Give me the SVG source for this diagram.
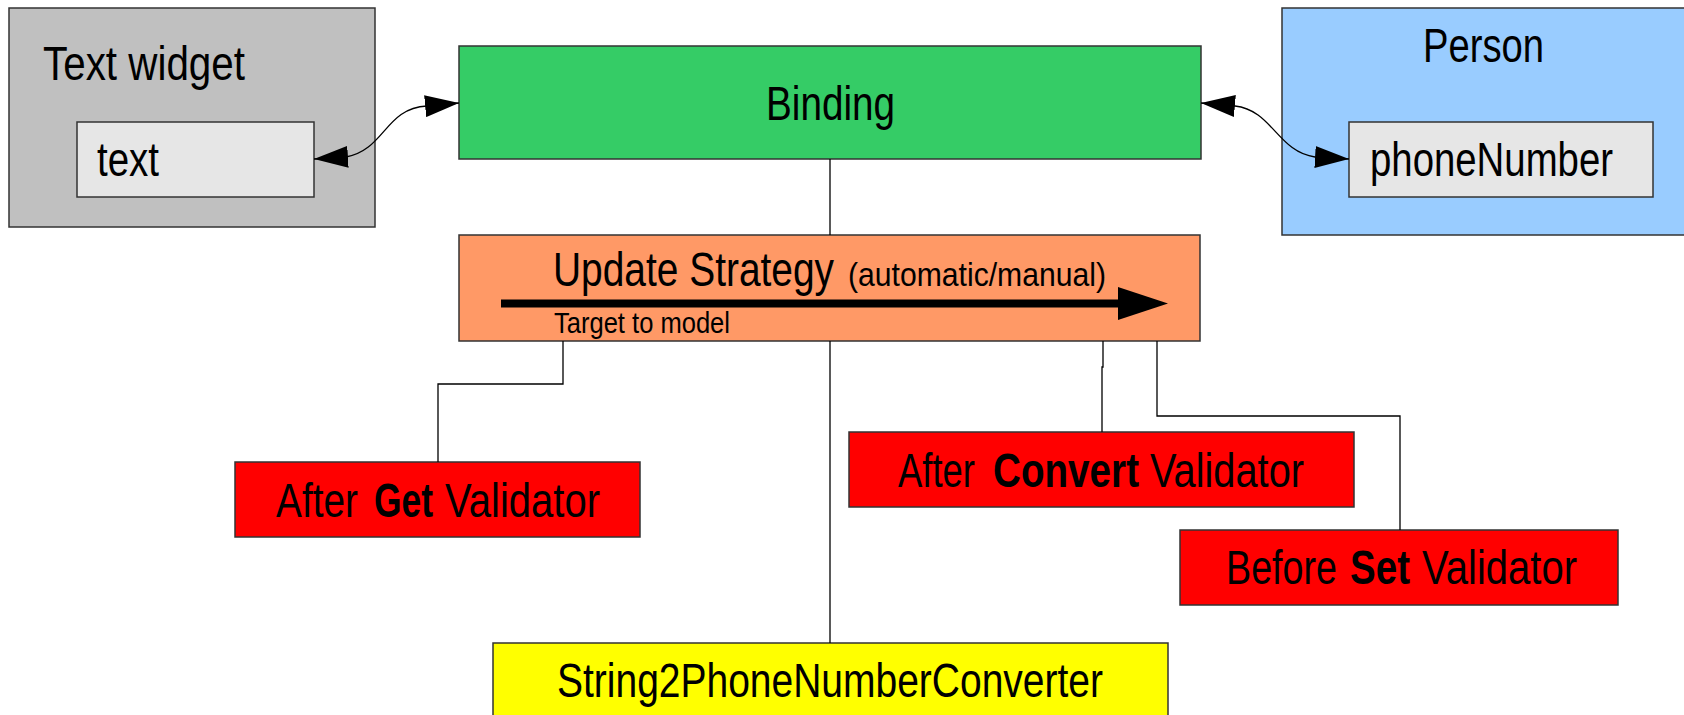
<svg xmlns="http://www.w3.org/2000/svg" width="1684" height="715" viewBox="0 0 1684 715">
<style>
text{font-family:"Liberation Sans Narrow","Liberation Sans",Arial,sans-serif;fill:#000;}
.b{stroke:#333;stroke-width:1.5;}
.lbl{font-size:48px;}
.bold{font-weight:bold;}
.conn{fill:none;stroke:#000;stroke-width:1.3;}
</style>
<defs>
<marker id="ah" markerUnits="userSpaceOnUse" markerWidth="34" markerHeight="22" viewBox="0 0 34 22" refX="34" refY="11" orient="auto-start-reverse">
<path d="M0,0 L34,11 L0,22 z" fill="#000"/>
</marker>
</defs>
<rect width="1684" height="715" fill="#fff"/>

<g id="text-widget">
<rect class="b" x="9" y="8" width="366" height="219" fill="#c0c0c0"/>
<text class="lbl" x="43" y="80" textLength="202" lengthAdjust="spacingAndGlyphs">Text widget</text>
</g>
<g id="text-field">
<rect class="b" x="77" y="122" width="237" height="75" fill="#e6e6e6"/>
<text class="lbl" x="97" y="176" textLength="62" lengthAdjust="spacingAndGlyphs">text</text>
</g>
<g id="binding">
<rect class="b" x="459" y="46" width="742" height="113" fill="#35cc66"/>
<text class="lbl" x="766" y="120" textLength="129" lengthAdjust="spacingAndGlyphs">Binding</text>
</g>
<g id="person">
<rect class="b" x="1282" y="8" width="410" height="227" fill="#99ccff"/>
<text class="lbl" x="1423" y="62" textLength="121" lengthAdjust="spacingAndGlyphs">Person</text>
</g>
<g id="phone-number">
<rect class="b" x="1349" y="122" width="304" height="75" fill="#e6e6e6"/>
<text class="lbl" x="1370" y="176" textLength="243" lengthAdjust="spacingAndGlyphs">phoneNumber</text>
</g>
<g id="update-strategy">
<rect class="b" x="459" y="235" width="741" height="106" fill="#ff9966"/>
<text class="lbl" x="553" y="286" textLength="281" lengthAdjust="spacingAndGlyphs">Update Strategy</text>
<text x="848" y="286" font-size="34" textLength="258" lengthAdjust="spacingAndGlyphs">(automatic/manual)</text>
<line x1="501" y1="303.5" x2="1122" y2="303.5" stroke="#000" stroke-width="8"/>
<polygon points="1118,287 1168,303.5 1118,320" fill="#000"/>
<text x="554" y="333" font-size="29" textLength="176" lengthAdjust="spacingAndGlyphs">Target to model</text>
</g>
<g id="after-get">
<rect class="b" x="235" y="462" width="405" height="75" fill="#ff0000"/>
<text class="lbl" x="276" y="517" textLength="82" lengthAdjust="spacingAndGlyphs">After</text>
<text class="lbl bold" x="374" y="517" textLength="59" lengthAdjust="spacingAndGlyphs">Get</text>
<text class="lbl" x="445" y="517" textLength="155" lengthAdjust="spacingAndGlyphs">Validator</text>
</g>
<g id="after-convert">
<rect class="b" x="849" y="432" width="505" height="75" fill="#ff0000"/>
<text class="lbl" x="898" y="487" textLength="77" lengthAdjust="spacingAndGlyphs">After</text>
<text class="lbl bold" x="993" y="487" textLength="146" lengthAdjust="spacingAndGlyphs">Convert</text>
<text class="lbl" x="1150" y="487" textLength="154" lengthAdjust="spacingAndGlyphs">Validator</text>
</g>
<g id="before-set">
<rect class="b" x="1180" y="530" width="438" height="75" fill="#ff0000"/>
<text class="lbl" x="1226" y="584" textLength="111" lengthAdjust="spacingAndGlyphs">Before</text>
<text class="lbl bold" x="1350" y="584" textLength="60" lengthAdjust="spacingAndGlyphs">Set</text>
<text class="lbl" x="1422" y="584" textLength="155" lengthAdjust="spacingAndGlyphs">Validator</text>
</g>
<g id="converter">
<rect class="b" x="493" y="643" width="675" height="90" fill="#ffff00"/>
<text class="lbl" x="557" y="697" textLength="546" lengthAdjust="spacingAndGlyphs">String2PhoneNumberConverter</text>
</g>

<g id="connectors">
<path class="conn" d="M314,159 L346,157 C385,150 385,108 427,106 L459,103" marker-start="url(#ah)" marker-end="url(#ah)"/>
<path class="conn" d="M1201,103 L1235,106 C1272,110 1278,152 1315,157 L1349,159" marker-start="url(#ah)" marker-end="url(#ah)"/>
<path class="conn" d="M830,159 V235"/>
<path class="conn" d="M830,341 V643"/>
<path class="conn" d="M563,341 V384 H438 V462"/>
<path class="conn" d="M1103,341 V367 H1102 V432"/>
<path class="conn" d="M1157,341 V416 H1400 V530"/>
</g>
</svg>
